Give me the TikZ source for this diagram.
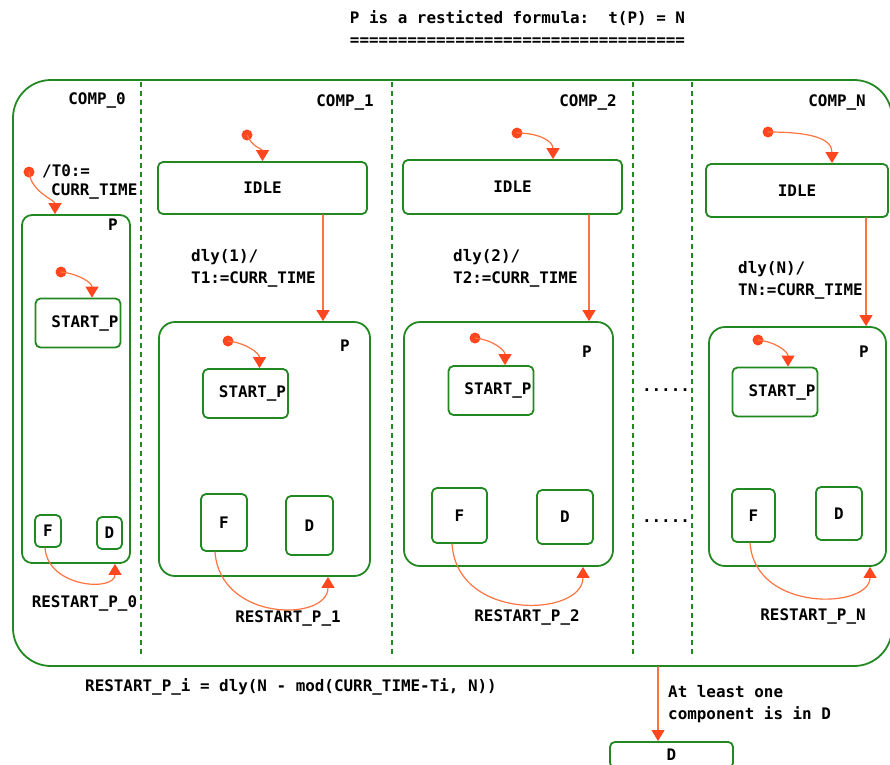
\documentclass[tikz,border=0pt]{standalone}
\usepackage{fontspec}
\setmonofont{DejaVu Sans Mono}
\usetikzlibrary{arrows.meta}
\definecolor{chartgreen}{RGB}{34,136,34}
\definecolor{arrowred}{RGB}{255,70,30}
\definecolor{lineorange}{RGB}{255,115,65}

\begin{document}
\begin{tikzpicture}[
		x=1pt, y=-1pt,
		every node/.style={font=\ttfamily\bfseries\fontsize{15.9}{22}\selectfont, inner sep=0pt},
		line cap=round,
		line join=round,
		statebox/.style={draw=chartgreen, line width=1.8pt, rounded corners=5pt},
		superbox/.style={draw=chartgreen, line width=1.8pt, rounded corners=16pt},
		startbox/.style={statebox, minimum height=49pt, text width=81pt, align=right, inner xsep=2pt},
		divider/.style={draw=chartgreen, line width=2.5pt, line cap=butt, dash pattern=on 5pt off 4pt},
		trans/.style={draw=lineorange, line width=1.2pt, -{Triangle[width=13pt,length=11pt,color=arrowred]}},
		initdot/.style={fill=arrowred}
		]
		
		\useasboundingbox (0,0) rectangle (890,764);
		
		% title
		\node[align=center] (title) at (517.5,28) {P is a resticted formula:\ \ t(P) = N\\===================================};
		
		% system of components
		\node[superbox, minimum width=879pt, minimum height=586pt, rounded corners=38pt] (sys) at (452.5,373) {};
		\draw[divider] (141,82) -- (141,658);
		\draw[divider] (392,82) -- (392,658);
		\draw[divider] (633,82) -- (633,658);
		\draw[divider] (692,82) -- (692,658);
		
		\node[anchor=east] (comp0) at (126,100) {COMP\_0};
		\node[anchor=east] (comp1) at (374,102) {COMP\_1};
		\node[anchor=east] (comp2) at (617,102) {COMP\_2};
		\node[anchor=east] (compn) at (866,102) {COMP\_N};
		
		% COMP_0
		\node[superbox, minimum width=108pt, minimum height=348pt, rounded corners=10pt] (p0) at (76,389) {};
		\node (plab0) at (113,225) {P};
		\node[startbox] (start0) at (78,323) {START\_P};
		\node[statebox, minimum width=26pt, minimum height=32pt] (f0) at (48,531) {F};
		\node[statebox, minimum width=25pt, minimum height=32pt] (d0) at (109.5,533) {D};
		\node[anchor=north west, align=left] (act0) at (42,164) {/T0:=\\[-3pt]\hspace*{9pt}CURR\_TIME};
		\node (restart0) at (84.5,603) {RESTART\_P\_0};
		\coordinate (ini0) at (29,172);
		\coordinate (inistart0) at (61,272);
		
		% COMP_1
		\node[statebox, minimum width=209pt, minimum height=52pt] (idle1) at (262.5,188) {IDLE};
		\node[superbox, minimum width=211pt, minimum height=254pt] (p1) at (264.5,449) {};
		\node (plab1) at (345,346) {P};
		\node[startbox] (start1) at (245.5,393.5) {START\_P};
		\node[statebox, minimum width=46pt, minimum height=57pt] (f1) at (224,522.5) {F};
		\node[statebox, minimum width=47pt, minimum height=59pt] (d1) at (309.5,525.5) {D};
		\node[anchor=north west, align=left] (dly1) at (191,249) {dly(1)/\\T1:=CURR\_TIME};
		\node (restart1) at (288,618) {RESTART\_P\_1};
		\coordinate (ini1) at (247,135);
		\coordinate (inistart1) at (228,341);
		
		% COMP_2
		\node[statebox, minimum width=219pt, minimum height=54pt] (idle2) at (512.5,187) {IDLE};
		\node[superbox, minimum width=209pt, minimum height=244pt] (p2) at (508.5,444) {};
		\node (plab2) at (587,352) {P};
		\node[startbox] (start2) at (491,390.5) {START\_P};
		\node[statebox, minimum width=55pt, minimum height=55pt] (f2) at (459.5,515.5) {F};
		\node[statebox, minimum width=56pt, minimum height=54pt] (d2) at (565,517) {D};
		\node[anchor=north west, align=left] (dly2) at (453,249) {dly(2)/\\T2:=CURR\_TIME};
		\node (restart2) at (527,617) {RESTART\_P\_2};
		\coordinate (ini2) at (517,133);
		\coordinate (inistart2) at (475,338);
		
		\node (gap1) at (666,390) {.....};
		\node (gap2) at (666,521) {.....};
		
		% COMP_N
		\node[statebox, minimum width=182pt, minimum height=53pt] (idlen) at (797,190.5) {IDLE};
		\node[superbox, minimum width=177pt, minimum height=239pt] (pn) at (797.5,446.5) {};
		\node (plabn) at (864,352) {P};
		\node[startbox] (startn) at (775,392) {START\_P};
		\node[statebox, minimum width=43pt, minimum height=53pt] (fn) at (753.5,515.5) {F};
		\node[statebox, minimum width=46pt, minimum height=53pt] (dn) at (839,513.5) {D};
		\node[anchor=north west, align=left] (dlyn) at (738,261) {dly(N)/\\TN:=CURR\_TIME};
		\node (restartn) at (813,616) {RESTART\_P\_N};
		\coordinate (inin) at (768,132);
		\coordinate (inistartn) at (758,340);
		
		% initial transitions
		\fill[initdot] (ini0) circle (5.5);
		\fill[initdot] (inistart0) circle (5.5);
		\fill[initdot] (ini1) circle (5.5);
		\fill[initdot] (inistart1) circle (5.5);
		\fill[initdot] (ini2) circle (5.5);
		\fill[initdot] (inistart2) circle (5.5);
		\fill[initdot] (inin) circle (5.5);
		\fill[initdot] (inistartn) circle (5.5);
		\draw[trans] (ini0) .. controls +(2,20) and +(0,-14) .. ([xshift=-21pt]p0.north);
		\draw[trans] (inistart0) .. controls +(18,2) and +(0,-15) .. ([xshift=14pt]start0.north);
		\draw[trans] (ini1) .. controls +(5,12) and +(0,-12) .. (idle1.north);
		\draw[trans] (inistart1) .. controls +(18,2) and +(0,-15) .. ([xshift=14pt]start1.north);
		\draw[trans] (ini2) .. controls +(22,0) and +(0,-18) .. ([xshift=40.5pt]idle2.north);
		\draw[trans] (inistart2) .. controls +(18,2) and +(0,-15) .. ([xshift=14pt]start2.north);
		\draw[trans] (inin) .. controls +(42,0) and +(0,-25) .. ([xshift=35pt]idlen.north);
		\draw[trans] (inistartn) .. controls +(18,2) and +(0,-15) .. ([xshift=13pt]startn.north);
		
		% delays
		\draw[trans] ([xshift=60.5pt]idle1.south) -- ([xshift=60.5pt]idle1.south |- p1.north);
		\draw[trans] ([xshift=76.5pt]idle2.south) -- ([xshift=76.5pt]idle2.south |- p2.north);
		\draw[trans] ([xshift=69pt]idlen.south) -- ([xshift=69pt]idlen.south |- pn.north);
		
		% restarts
		\draw[trans] ([xshift=-3pt]f0.south) .. controls +(3,40) and +(0,28) .. ([xshift=39pt]p0.south);
		\draw[trans] ([xshift=-9pt]f1.south) .. controls +(5,70) and +(0,45) .. ([xshift=63.5pt]p1.south);
		\draw[trans] ([xshift=-7.5pt]f2.south) .. controls +(5,78) and +(0,50) .. ([xshift=74.5pt]p2.south);
		\draw[trans] ([xshift=-3.5pt]fn.south) .. controls +(5,70) and +(0,42) .. ([xshift=72.5pt]pn.south);
		
		% bottom
		\node[anchor=west] (formula) at (85,687) {RESTART\_P\_i = dly(N - mod(CURR\_TIME-Ti, N))};
		\node[statebox, anchor=north, minimum width=123pt, minimum height=26pt] (dfin) at (671.5,741) {D};
		\node[anchor=north west, align=left] (reason) at (668,685) {At least one\\component is in D};
		\draw[trans] ([xshift=-13.5pt]dfin.north |- sys.south) -- ([xshift=-13.5pt]dfin.north);
		
	\end{tikzpicture}
\end{document}
